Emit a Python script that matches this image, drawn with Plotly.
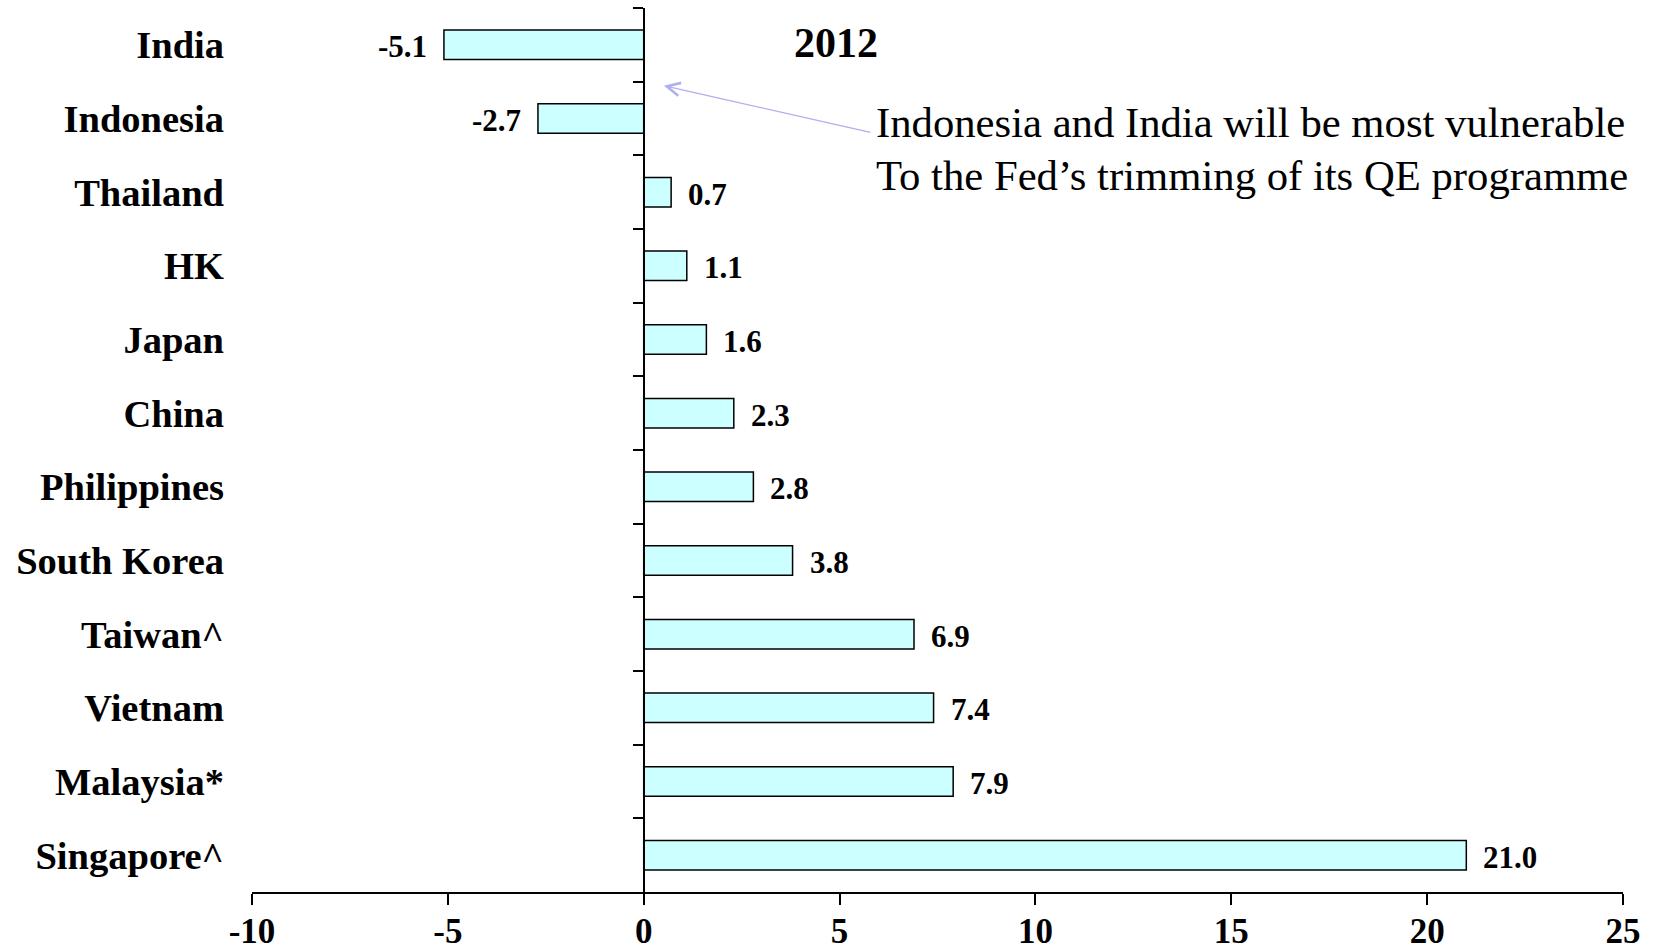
import plotly.graph_objects as go

categories = ["India", "Indonesia", "Thailand", "HK", "Japan", "China", "Philippines",
              "South Korea", "Taiwan^", "Vietnam", "Malaysia*", "Singapore^"]
values = [-5.1, -2.7, 0.7, 1.1, 1.6, 2.3, 2.8, 3.8, 6.9, 7.4, 7.9, 21.0]
x_tickvals = [-10, -5, 0, 5, 10, 15, 20, 25]
x_ticktext = ["-10", "-5", "0", "5", "10", "15", "20", "25"]
title_text = "2012"
note_lines = ["Indonesia and India will be most vulnerable",
              "To the Fed\u2019s trimming of its QE programme"]

SERIF = "Liberation Serif, Times New Roman, serif"
X_MIN, X_MAX = -10, 25
Y_RANGE = [len(categories) - 0.5, -0.5]

fig = go.Figure()
fig.add_trace(go.Bar(
    x=values, y=categories, orientation="h", width=0.4,
    marker=dict(color="#CCFFFF", line=dict(color="black", width=1.5)),
    hoverinfo="skip", showlegend=False,
))
# invisible trace carrying the category labels axis
fig.add_trace(go.Scatter(
    x=values, y=categories, yaxis="y2", mode="markers",
    marker=dict(opacity=0), hoverinfo="skip", showlegend=False,
))

annotations = []
for c, v in zip(categories, values):
    annotations.append(dict(
        x=v, y=c, xref="x", yref="y", text=f"{v:.1f}", showarrow=False,
        xanchor="left" if v >= 0 else "right", yanchor="middle",
        xshift=15 if v >= 0 else -15, yshift=-2,
        font=dict(family=SERIF, size=31, color="black", weight="bold"),
    ))

annotations.append(dict(
    x=0.426, y=0.9607, xref="paper", yref="paper", text=title_text, showarrow=False,
    xanchor="center", yanchor="middle",
    font=dict(family=SERIF, size=42, color="black", weight="bold"),
))
annotations.append(dict(
    x=0.4537, y=0.8705, xref="paper", yref="paper", text=note_lines[0], showarrow=False,
    xanchor="left", yanchor="middle",
    font=dict(family=SERIF, size=42.7, color="black"),
))
annotations.append(dict(
    x=0.4537, y=0.8100, xref="paper", yref="paper", text=note_lines[1], showarrow=False,
    xanchor="left", yanchor="middle",
    font=dict(family=SERIF, size=42.7, color="black"),
))
annotations.append(dict(
    x=0.3005, y=0.912, xref="paper", yref="paper", text="", showarrow=True,
    ax=208, ay=47, axref="pixel", ayref="pixel",
    arrowhead=5, arrowsize=2, arrowwidth=1.3, arrowcolor="#AFAFEF",
))

fig.update_layout(
    width=1658, height=951,
    margin=dict(l=252, r=35, t=8, b=59),
    paper_bgcolor="white", plot_bgcolor="white",
    annotations=annotations,
    xaxis=dict(
        range=[X_MIN, X_MAX], tickvals=x_tickvals, ticktext=x_ticktext,
        showline=True, linecolor="black", linewidth=2,
        ticks="outside", ticklen=11, tickwidth=2, tickcolor="black",
        showgrid=False, zeroline=False, automargin=False,
        ticklabelstandoff=-4,
        tickfont=dict(family=SERIF, size=35, color="black", weight="bold"),
    ),
    yaxis=dict(
        type="category", categoryorder="array", categoryarray=categories,
        range=Y_RANGE, autorange=False,
        anchor="free", position=(0 - X_MIN) / (X_MAX - X_MIN),
        showline=True, linecolor="black", linewidth=2,
        ticks="outside", tickson="boundaries", ticklen=10, tickwidth=2, tickcolor="black",
        showticklabels=False, showgrid=False, zeroline=False, automargin=False,
    ),
    yaxis2=dict(
        type="category", categoryorder="array", categoryarray=categories,
        range=Y_RANGE, autorange=False,
        overlaying="y", anchor="free", position=0, side="left",
        showline=False, ticks="", showgrid=False, zeroline=False, automargin=False,
        ticklabelstandoff=28,
        tickfont=dict(family=SERIF, size=38.5, color="black", weight="bold"),
    ),
)

fig.write_html("out.html")
